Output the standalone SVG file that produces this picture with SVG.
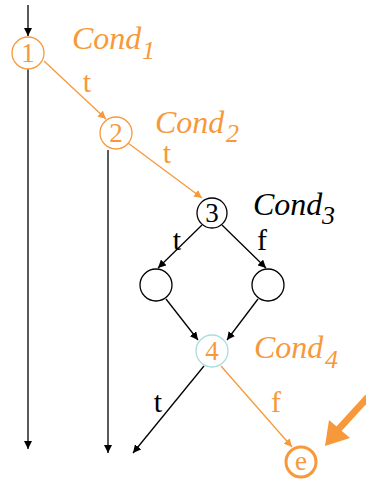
<svg xmlns="http://www.w3.org/2000/svg" width="366" height="480" viewBox="0 0 366 480">
<defs>
<marker id="ab" viewBox="0 0 10 10" refX="10" refY="5" markerWidth="8" markerHeight="8" markerUnits="userSpaceOnUse" orient="auto"><path d="M0,0 L10,5 L0,10 z" fill="#000"/></marker>
<marker id="ao" viewBox="0 0 10 10" refX="10" refY="5" markerWidth="8" markerHeight="8" markerUnits="userSpaceOnUse" orient="auto"><path d="M0,0 L10,5 L0,10 z" fill="#F7993A"/></marker>
</defs>
<style>
.n{fill:#fff;stroke:#000;stroke-width:1.3}
.no{fill:#fff;stroke:#F7993A;stroke-width:1.3}
.or{fill:#F7993A}
.bk{fill:#000}
.eb{stroke:#000;stroke-width:1.3;fill:none;marker-end:url(#ab)}
.eo{stroke:#F7993A;stroke-width:1.3;fill:none;marker-end:url(#ao)}
</style>
<g id="connectors">
<line class="eb" x1="28" y1="5" x2="28" y2="36"/>
<line class="eb" x1="28" y1="69" x2="28" y2="449"/>
<line class="eo" x1="44" y1="61" x2="106" y2="119"/>
<line class="eb" x1="108" y1="150" x2="108" y2="453"/>
<line class="eo" x1="128" y1="143" x2="202" y2="198"/>
<line class="eb" x1="202" y1="225" x2="158" y2="268"/>
<line class="eb" x1="222" y1="225" x2="266" y2="268"/>
<line class="eb" x1="166" y1="299" x2="198" y2="340"/>
<line class="eb" x1="258" y1="299" x2="227" y2="340"/>
<line class="eb" x1="204" y1="366" x2="133" y2="453"/>
<line class="eo" x1="221" y1="366" x2="292" y2="447"/>
<g id="big-arrow">
<line x1="368" y1="397" x2="336" y2="432" stroke="#F7993A" stroke-width="7"/>
<polygon points="325,446 329,420 350,438" fill="#F7993A"/>
</g>
<g font-family="'Times New Roman', 'Liberation Serif', 'DejaVu Serif', serif" font-size="30" text-anchor="middle">
<text class="or" x="87" y="92">t</text>
<text class="or" x="167" y="163">t</text>
<text class="bk" x="177" y="250">t</text>
<text class="bk" x="262" y="250">f</text>
<text class="bk" x="158" y="412">t</text>
<text class="or" x="276" y="412">f</text>
</g>
</g>
<g id="n1">
<circle class="no" cx="28" cy="53" r="16"/>
<text class="or" x="28" y="62" font-family="'Times New Roman', 'Liberation Serif', 'DejaVu Serif', serif" font-size="27" text-anchor="middle">1</text>
<text class="or" x="72" y="49" font-family="'Times New Roman', 'Liberation Serif', 'DejaVu Serif', serif" font-size="32" font-style="italic">Cond</text>
<text class="or" x="142" y="59" font-family="'Times New Roman', 'Liberation Serif', 'DejaVu Serif', serif" font-size="26" font-style="italic">1</text>
</g>
<g id="n2">
<circle class="no" cx="116" cy="133" r="16"/>
<text class="or" x="116" y="142" font-family="'Times New Roman', 'Liberation Serif', 'DejaVu Serif', serif" font-size="27" text-anchor="middle">2</text>
<text class="or" x="155" y="133" font-family="'Times New Roman', 'Liberation Serif', 'DejaVu Serif', serif" font-size="32" font-style="italic">Cond</text>
<text class="or" x="226" y="142" font-family="'Times New Roman', 'Liberation Serif', 'DejaVu Serif', serif" font-size="26" font-style="italic">2</text>
</g>
<g id="n3">
<circle class="n" cx="212" cy="213" r="15"/>
<text class="bk" x="212" y="222" font-family="'Times New Roman', 'Liberation Serif', 'DejaVu Serif', serif" font-size="27" text-anchor="middle">3</text>
<text class="bk" x="253" y="215" font-family="'Times New Roman', 'Liberation Serif', 'DejaVu Serif', serif" font-size="32" font-style="italic">Cond</text>
<text class="bk" x="322" y="224" font-family="'Times New Roman', 'Liberation Serif', 'DejaVu Serif', serif" font-size="26" font-style="italic">3</text>
</g>
<g id="nl">
<circle class="n" cx="156" cy="285" r="16"/>
</g>
<g id="nr">
<circle class="n" cx="268" cy="285" r="16"/>
</g>
<g id="n4">
<circle cx="212" cy="351" r="16" fill="#fff" stroke="#A9DDE0" stroke-width="1.3"/>
<text class="or" x="212" y="360" font-family="'Times New Roman', 'Liberation Serif', 'DejaVu Serif', serif" font-size="27" text-anchor="middle">4</text>
<text class="or" x="254" y="358" font-family="'Times New Roman', 'Liberation Serif', 'DejaVu Serif', serif" font-size="32" font-style="italic">Cond</text>
<text class="or" x="325" y="368" font-family="'Times New Roman', 'Liberation Serif', 'DejaVu Serif', serif" font-size="26" font-style="italic">4</text>
</g>
<g id="ne">
<circle cx="301" cy="462" r="15" fill="#fff" stroke="#F7993A" stroke-width="3"/>
<text class="or" x="301" y="470" font-family="'Times New Roman', 'Liberation Serif', 'DejaVu Serif', serif" font-size="27" text-anchor="middle">e</text>
</g>
</svg>
